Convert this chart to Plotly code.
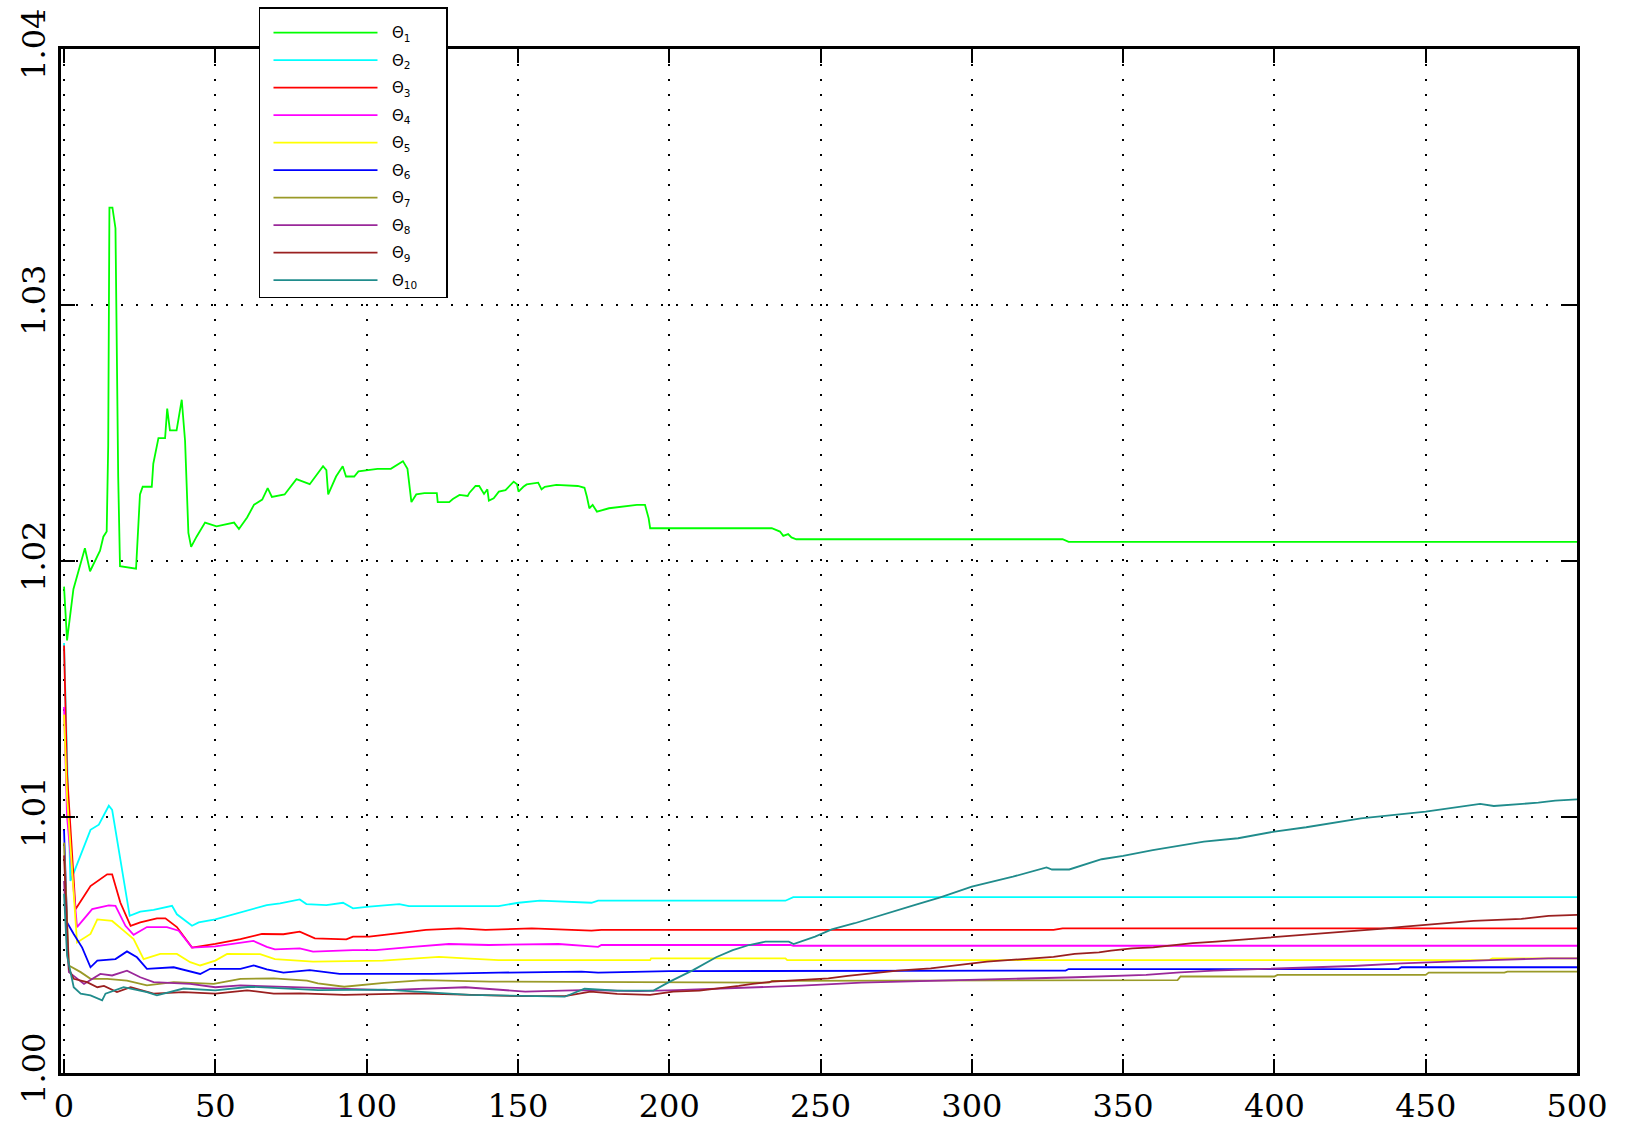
import plotly.graph_objects as go

# ---- data ----
x1 = [0, 1, 3.1, 6.9, 8.6, 11.9, 13, 14.1, 14.6, 15, 16, 17, 17.9, 18.5, 23.8, 25.1, 26, 29, 29.5, 31.2, 33.4, 34.1, 35,
      37.2, 38.9, 40, 41.1, 42, 43.8, 46.6, 50.4, 56.2, 57.8, 60.5, 62.8, 65.5, 67.3, 68.7, 72.9, 76.8, 81.2, 85.6, 86.7,
      87.3, 89.9, 92.1, 93.2, 95.9, 97.3, 102.3, 103.6, 108, 112, 113.5, 114.8, 116.4, 119.1, 123.2, 123.5, 127.3, 128.5,
      130.7, 133.4, 134, 136, 137.2, 138.8, 139.9, 140.4, 142, 143.7, 145.9, 147, 148.6, 149.7, 150.2, 151.8, 152.9,
      156.7, 157.8, 158.9, 162.7, 169.8, 172, 172.8, 173.6, 174.7, 176.1, 180.1, 184.5, 189.3, 192, 193.2, 193.7, 233.9,
      236.6, 237.7, 239.3, 240.4, 242, 330, 332, 500]
y1 = [1.0190, 1.0169, 1.0189, 1.0205, 1.0196, 1.0204, 1.02095, 1.02115, 1.0245, 1.0338, 1.0338, 1.0330, 1.0233, 1.0198,
      1.0197, 1.0226, 1.0229, 1.0229, 1.0238, 1.0248, 1.0248, 1.02595, 1.0251, 1.0251, 1.0263, 1.0247, 1.0211, 1.02055,
      1.02095, 1.0215, 1.02135, 1.0215, 1.02125, 1.0217, 1.0222, 1.0224, 1.02285, 1.0225, 1.0226, 1.0232, 1.0230,
      1.0237, 1.02355, 1.0226, 1.0233, 1.0237, 1.0233, 1.0233, 1.0235, 1.0236, 1.0236, 1.0236, 1.0239, 1.0236, 1.0223,
      1.0226, 1.02265, 1.02265, 1.0223, 1.0223, 1.02242, 1.02258, 1.02254, 1.02267, 1.02293, 1.02293, 1.02262, 1.0228,
      1.02236, 1.02245, 1.02271, 1.02277, 1.0229, 1.0231, 1.0230, 1.02271, 1.0229, 1.02299, 1.02306, 1.0228, 1.0229,
      1.02297, 1.02293, 1.02286, 1.02251, 1.02206, 1.02219, 1.02193, 1.02206, 1.02212, 1.02219, 1.02219, 1.02167,
      1.02128, 1.02128, 1.02115, 1.02098, 1.02105, 1.02092, 1.02085, 1.02085, 1.02075, 1.02075]

x2 = [0, 2.1, 3.2, 8.75, 11.5, 14.8, 15.9, 18.6, 21.7, 25.2, 29.6, 35.7, 37.3, 42.3, 44.5, 50, 56, 61.5, 67, 71.4, 75.7,
      77.9, 80.1, 86.7, 92.2, 95.5, 100.9, 110.8, 114, 143.6, 150.2, 157.3, 174.3, 176.5, 238.4, 241, 500]
y2 = [1.0168, 1.0075, 1.00782, 1.0095, 1.0097, 1.01044, 1.01028, 1.00834, 1.00614, 1.0063, 1.00637, 1.00653, 1.0062,
      1.00575, 1.00588, 1.0060, 1.0062, 1.00637, 1.00656, 1.00663, 1.00673, 1.00678, 1.0066, 1.00656, 1.00665, 1.00643,
      1.0065, 1.0066, 1.00652, 1.00652, 1.00665, 1.00673, 1.00665, 1.00673, 1.00673, 1.00687, 1.00687]

x3 = [0, 1, 3.8, 8.75, 14.25, 15.9, 18.6, 22, 25.2, 30.7, 33.5, 37.3, 42.3, 50, 58.3, 65.4, 72.5, 77.9, 82.9, 93.3, 95.5,
      100.9, 110.8, 119.6, 130.5, 139.3, 154.6, 174.3, 177.6, 327, 330, 500]
y3 = [1.0167, 1.0117, 1.0064, 1.0073, 1.00776, 1.00776, 1.00666, 1.00575, 1.00588, 1.00604, 1.00604, 1.0057, 1.0049,
      1.00504, 1.00523, 1.00543, 1.00542, 1.00552, 1.00526, 1.00522, 1.00533, 1.00533, 1.00546, 1.00559, 1.00565,
      1.00559, 1.00565, 1.00556, 1.00559, 1.00559, 1.00565, 1.00565]

x4 = [0, 1, 4.3, 9.3, 14.8, 17, 20.3, 23, 27.4, 34, 37.9, 42.3, 50, 62.6, 67, 69.7, 77.9, 82.3, 95.5, 103, 115.2, 127.2,
      140.4, 163.4, 176.5, 177.6, 240, 241, 500]
y4 = [1.0143, 1.0100, 1.0057, 1.0064, 1.00655, 1.00653, 1.00575, 1.0054, 1.0057, 1.0057, 1.00556, 1.0049, 1.00495,
      1.00516, 1.00493, 1.00483, 1.00487, 1.00474, 1.0048, 1.0048, 1.00493, 1.00504, 1.0050, 1.00504, 1.00493, 1.0050,
      1.0050, 1.00497, 1.00497]

x5 = [0, 1, 4.3, 8.75, 11, 15.9, 19.7, 23, 26.3, 31.8, 37.3, 41.7, 45, 50, 53.9, 64.8, 69.7, 82.3, 105.3, 123.9, 132.7,
      143.6, 193.7, 194, 238.4, 239, 471, 472, 500]
y5 = [1.0140, 1.0108, 1.0051, 1.00543, 1.0060, 1.00594, 1.00556, 1.00523, 1.00445, 1.00465, 1.00465, 1.00433, 1.0042,
      1.00439, 1.00465, 1.00464, 1.00445, 1.00435, 1.00439, 1.00454, 1.00448, 1.00441, 1.00441, 1.00448, 1.00448,
      1.00441, 1.00441, 1.00448, 1.00448]

x6 = [0, 1, 3.2, 6, 8.75, 11, 17, 20.8, 24.1, 27.4, 36.25, 42.3, 45, 48.3, 58.3, 62.7, 67, 72.5, 81.2, 91.1, 121.7, 143.6,
      171, 176.5, 200, 331, 332, 441, 442, 500]
y6 = [1.0095, 1.00588, 1.00543, 1.0049, 1.00413, 1.00439, 1.00445, 1.00475, 1.00452, 1.00407, 1.00413, 1.00394, 1.00387,
      1.00407, 1.00407, 1.0042, 1.00405, 1.00392, 1.00402, 1.00387, 1.00387, 1.00392, 1.00396, 1.00392, 1.00398, 1.0040,
      1.00406, 1.00406, 1.00413, 1.00413]

x7 = [0, 1.6, 5.5, 8.75, 14.25, 20.8, 27.4, 36.25, 49.5, 58.3, 69.3, 80.3, 83.9, 92.6, 105.8, 118.9, 140.8, 233, 234, 368,
      369, 400, 401, 450, 451, 476, 477, 500]
y7 = [1.0090, 1.0042, 1.00394, 1.00368, 1.00368, 1.00361, 1.00342, 1.00355, 1.00348, 1.00368, 1.0037, 1.00361, 1.0035,
      1.00337, 1.00352, 1.00363, 1.00357, 1.00353, 1.0036, 1.00363, 1.00377, 1.00377, 1.00383, 1.00383, 1.00392, 1.00392,
      1.00396, 1.00396]

x8 = [0, 1.6, 6.6, 12, 15.9, 20.8, 25.2, 29.6, 41.7, 50, 58.3, 80.3, 106.4, 132.7, 152.4, 171, 190, 202.4, 221, 235, 243.8,
      263.5, 298.4, 322.4, 334.4, 357.6, 368.8, 380, 404, 426, 442, 456.8, 471.4, 490.6, 500]
y8 = [1.0075, 1.00394, 1.00348, 1.00387, 1.00381, 1.0040, 1.00374, 1.00355, 1.00348, 1.00335, 1.00342, 1.00335, 1.00324,
      1.00335, 1.00318, 1.00324, 1.0032, 1.00324, 1.00331, 1.00337, 1.00341, 1.00353, 1.00363, 1.0037, 1.00374, 1.00383,
      1.00393, 1.0040, 1.00409, 1.00418, 1.00428, 1.00435, 1.00441, 1.00448, 1.00448]

x9 = [0, 1.6, 3.2, 7.6, 11, 13.2, 17.5, 22, 29.6, 39.5, 50, 58, 60.5, 69.3, 78, 92.6, 116, 152, 165.5, 174, 182.8, 193.7,
      201.3, 210, 217.7, 223, 227.5, 234, 242.7, 252.6, 259, 263.5, 269, 275.5, 286.4, 293, 299.5, 305, 315.8, 322, 327,
      334, 342, 346, 353, 360, 367.7, 373, 380.7, 390.8, 398, 407, 414, 420.7, 428, 435, 443, 450.6, 459, 465.8, 481.6,
      490.6, 500]
y9 = [1.0085, 1.00407, 1.00368, 1.00355, 1.00335, 1.0034, 1.00316, 1.00335, 1.0031, 1.00316, 1.0031, 1.00322, 1.00323,
      1.0031, 1.00311, 1.00305, 1.00311, 1.0030, 1.0030, 1.00318, 1.00309, 1.00305, 1.00318, 1.00322, 1.00331, 1.0034,
      1.00348, 1.00357, 1.00363, 1.0037, 1.00379, 1.00385, 1.00392, 1.0040, 1.00409, 1.00418, 1.00426, 1.00435, 1.00444,
      1.0045, 1.00454, 1.00465, 1.00471, 1.00478, 1.00487, 1.00491, 1.0050, 1.00507, 1.00513, 1.00522, 1.00529, 1.00537,
      1.00543, 1.0055, 1.00556, 1.00563, 1.00572, 1.0058, 1.00587, 1.00594, 1.00602, 1.00614, 1.00618]

x10 = [0, 1, 3.2, 5.5, 8.75, 12.6, 13.7, 19.7, 27.4, 30.7, 39.5, 50, 61.5, 84, 106, 116, 134, 165.5, 172, 182.8, 194.8,
       200.2, 207.9, 215.5, 221, 226.4, 231.8, 239.5, 241.1, 248.2, 253.7, 261.3, 270, 281, 289.6, 300, 313.6, 324.7,
       326.5, 332.2, 342.9, 350, 359.8, 376.7, 388, 400, 410.5, 428.6, 450, 462.4, 468, 472.5, 482.7, 487.2, 492.8, 500]
y10 = [1.0070, 1.00458, 1.00335, 1.0031, 1.00303, 1.00284, 1.0031, 1.00335, 1.00316, 1.00303, 1.0033, 1.00323, 1.00337,
       1.00324, 1.00326, 1.00318, 1.00305, 1.00298, 1.00329, 1.00322, 1.00322, 1.00357, 1.00402, 1.00452, 1.0048, 1.0050,
       1.00513, 1.00513, 1.00504, 1.00533, 1.00561, 1.00585, 1.00617, 1.00656, 1.00686, 1.00728, 1.00767, 1.00803,
       1.00795, 1.00795, 1.00835, 1.00848, 1.00871, 1.00904, 1.00917, 1.00943, 1.0096, 1.00995, 1.01021, 1.01043,
       1.01051, 1.01043, 1.01051, 1.01056, 1.01064, 1.01069]

series_x = [x1, x2, x3, x4, x5, x6, x7, x8, x9, x10]
series_y = [y1, y2, y3, y4, y5, y6, y7, y8, y9, y10]
names = ["Θ<sub>1</sub>", "Θ<sub>2</sub>", "Θ<sub>3</sub>", "Θ<sub>4</sub>", "Θ<sub>5</sub>",
         "Θ<sub>6</sub>", "Θ<sub>7</sub>", "Θ<sub>8</sub>", "Θ<sub>9</sub>", "Θ<sub>10</sub>"]
colors = ["#00ff00", "#00ffff", "#ff0000", "#ff00ff", "#ffff00",
          "#0000ff", "#9a9a28", "#9a289a", "#9a2020", "#208c8c"]

x_ticks = [0, 50, 100, 150, 200, 250, 300, 350, 400, 450, 500]
y_ticks = [1.00, 1.01, 1.02, 1.03, 1.04]
y_ticktext = ["1.00", "1.01", "1.02", "1.03", "1.04"]

fig = go.Figure()
for i, (xs, ys) in enumerate(zip(series_x, series_y)):
    assert len(xs) == len(ys), (i, len(xs), len(ys))
    fig.add_trace(go.Scatter(x=xs, y=ys, mode="lines",
                             name="\u00a0\u00a0" + names[i] + "\u00a0" * 5,
                             legendgroup=f"g{i}",
                             line=dict(color=colors[i], width=1.8)))

axis_common = dict(
    showline=True, linewidth=3, linecolor="black", mirror="ticks",
    ticks="inside", ticklen=14, tickwidth=1.5, tickcolor="black",
    showgrid=True, gridcolor="black", gridwidth=1.5, griddash="2px,13px",
    zeroline=False, automargin=False,
    tickfont=dict(family="DejaVu Serif", size=32, color="black"),
)

fig.update_layout(
    width=1635, height=1126,
    margin=dict(l=61, r=58, t=49, b=53, autoexpand=False),
    paper_bgcolor="white", plot_bgcolor="white",
    xaxis=dict(range=[-1, 500], tickvals=x_ticks, ticklabelstandoff=3, **axis_common),
    yaxis=dict(range=[1.0, 1.04], tickvals=y_ticks, ticktext=y_ticktext, tickangle=-90, **axis_common),
    legend=dict(x=0.1306, y=1.041, xanchor="left", yanchor="top",
                bgcolor="white", bordercolor="black", borderwidth=1.5,
                font=dict(family="DejaVu Sans", size=15, color="black"),
                title=dict(text="\u00a0", font=dict(size=6)),
                itemwidth=104, indentation=8, tracegroupgap=5),
    showlegend=True,
)

fig.write_html("out.html")
